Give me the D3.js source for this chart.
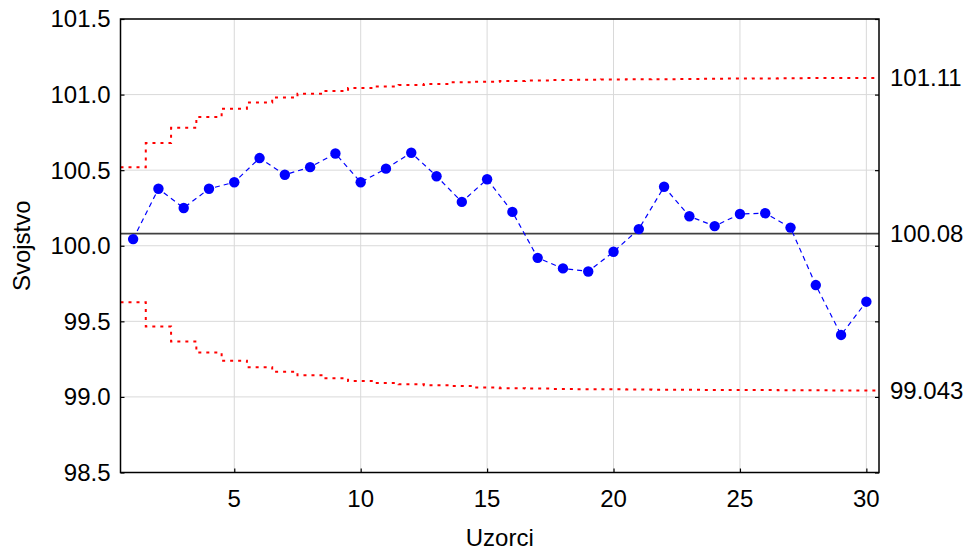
<!DOCTYPE html>
<html><head><meta charset="utf-8">
<script src="https://cdn.jsdelivr.net/npm/d3@7"></script>
<style>body{margin:0;background:#fff}svg{display:block}text{font-family:Arial,'Liberation Sans',sans-serif;fill:#000}</style>
</head><body>
<svg id="chart" width="968" height="552"></svg>
<script>
const samples = d3.range(1, 31);
const values = [100.044, 100.377, 100.25, 100.377, 100.42, 100.58, 100.47, 100.52, 100.61, 100.42,
  100.51, 100.615, 100.46, 100.29, 100.44, 100.224, 99.92, 99.85, 99.83, 99.96,
  100.11, 100.39, 100.195, 100.13, 100.21, 100.215, 100.12, 99.74, 99.41, 99.63];
const ucl = [100.52, 100.679, 100.78, 100.852, 100.907, 100.947, 100.98, 101.006, 101.023, 101.043,
  101.054, 101.063, 101.07, 101.081, 101.085, 101.09, 101.093, 101.096, 101.098, 101.10,
  101.101, 101.102, 101.103, 101.105, 101.106, 101.107, 101.108, 101.109, 101.11, 101.11];
const lcl = [99.626, 99.466, 99.367, 99.294, 99.24, 99.197, 99.167, 99.143, 99.123, 99.105,
  99.092, 99.083, 99.077, 99.072, 99.062, 99.058, 99.055, 99.053, 99.051, 99.05,
  99.049, 99.048, 99.047, 99.046, 99.045, 99.045, 99.044, 99.044, 99.043, 99.043];
const centerLine = 100.08;
const limitValues = [101.11, 100.08, 99.043];
const limitLabels = ["101.11", "100.08", "99.043"];
const xTicks = [5, 10, 15, 20, 25, 30];
const yTicks = [98.5, 99.0, 99.5, 100.0, 100.5, 101.0, 101.5];
const xTitle = "Uzorci", yTitle = "Svojstvo";

const L = 120.5, R = 879, T = 19, B = 472.5;
const svg = d3.select("#chart");
const x = d3.scaleLinear().domain([0.5, 30.5]).range([L, R]);
const y = d3.scaleLinear().domain([98.5, 101.5]).range([B, T]);
const FS = "24px";

// grid
const grid = svg.append("g");
grid.selectAll("line.v").data(xTicks).join("line")
  .attr("x1", d => x(d)).attr("x2", d => x(d)).attr("y1", T).attr("y2", B)
  .attr("stroke", "#d9d9d9").attr("stroke-width", 1);
grid.selectAll("line.h").data(yTicks).join("line")
  .attr("y1", d => y(d)).attr("y2", d => y(d)).attr("x1", L).attr("x2", R)
  .attr("stroke", "#d9d9d9").attr("stroke-width", 1);

// step limits
function stepPts(arr) {
  const pts = arr.map((v, i) => [samples[i] - 0.5, v]);
  pts.push([samples[samples.length - 1] + 0.5, arr[arr.length - 1]]);
  return pts;
}
const stepLine = d3.line().x(d => x(d[0])).y(d => y(d[1])).curve(d3.curveStepAfter);
[ucl, lcl].forEach(arr => {
  svg.append("path").attr("d", stepLine(stepPts(arr)))
    .attr("fill", "none").attr("stroke", "#ff0000").attr("stroke-width", 2)
    .attr("stroke-dasharray", "3,5");
});

// center line
svg.append("line").attr("x1", L).attr("x2", R).attr("y1", y(centerLine)).attr("y2", y(centerLine))
  .attr("stroke", "#404040").attr("stroke-width", 1.8);

// data
const dataLine = d3.line().x((d, i) => x(samples[i])).y(d => y(d));
svg.append("path").attr("d", dataLine(values)).attr("fill", "none")
  .attr("stroke", "#0000ff").attr("stroke-width", 1.2).attr("stroke-dasharray", "5,4");
svg.selectAll("circle.pt").data(values).join("circle")
  .attr("cx", (d, i) => x(samples[i])).attr("cy", d => y(d)).attr("r", 5.2).attr("fill", "#0000ff");

// axes
const gL = svg.append("g").attr("transform", `translate(${L},0)`)
  .call(d3.axisRight(y).tickValues(yTicks).tickSize(4).tickFormat(""));
gL.select(".domain").remove();
svg.append("g").selectAll("text").data(yTicks).join("text")
  .attr("x", L - 10).attr("y", d => y(d)).attr("dy", "0.35em").attr("text-anchor", "end")
  .style("font-size", FS).text(d => d3.format(".1f")(d));

const gR = svg.append("g").attr("transform", `translate(${R},0)`)
  .call(d3.axisLeft(y).tickValues(yTicks).tickSize(4).tickFormat(""));
gR.select(".domain").remove();
const gR2 = svg.append("g").attr("transform", `translate(${R},0)`)
  .call(d3.axisRight(y).tickValues(limitValues).tickSize(0).tickPadding(11)
    .tickFormat((d, i) => limitLabels[i]));
gR2.select(".domain").remove();
gR2.selectAll("text").style("font-size", FS).style("font-family", "Arial,'Liberation Sans',sans-serif");

const gB = svg.append("g").attr("transform", `translate(0,${B})`)
  .call(d3.axisTop(x).tickValues(xTicks).tickSize(4).tickFormat(""));
gB.select(".domain").remove();
svg.append("g").selectAll("text").data(xTicks).join("text")
  .attr("x", d => x(d)).attr("y", B + 26).attr("dy", "0.35em").attr("text-anchor", "middle")
  .style("font-size", FS).text(d => d);

svg.selectAll(".tick line").attr("stroke", "#000").attr("stroke-width", 1.2);

// frame
svg.append("rect").attr("x", L).attr("y", T).attr("width", R - L).attr("height", B - T)
  .attr("fill", "none").attr("stroke", "#000").attr("stroke-width", 1.5);

// titles
svg.append("text").attr("x", (L + R) / 2).attr("y", 538).attr("dy", "0.35em")
  .attr("text-anchor", "middle").style("font-size", FS).text(xTitle);
svg.append("text").attr("transform", `translate(22,${(T + B) / 2}) rotate(-90)`)
  .attr("dy", "0.35em").attr("text-anchor", "middle").style("font-size", FS).text(yTitle);
</script>
</body></html>
